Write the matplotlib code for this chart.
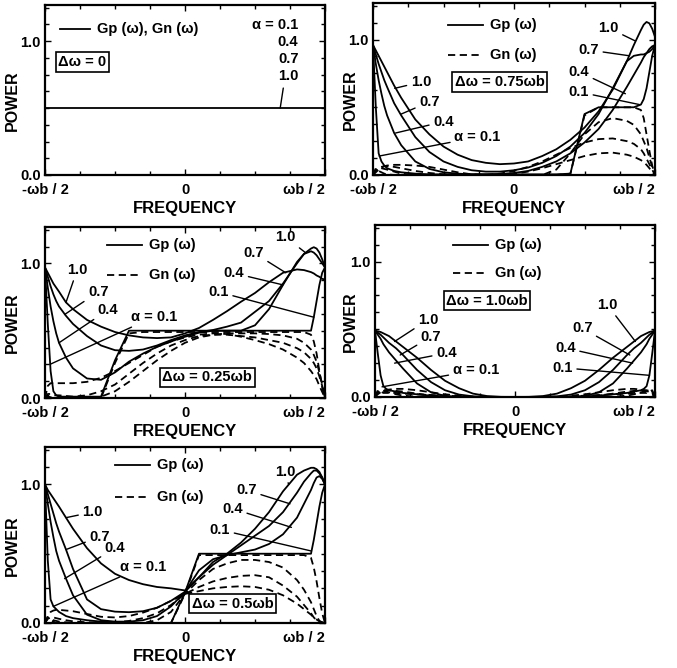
import matplotlib
matplotlib.use("Agg")
import matplotlib.pyplot as plt
from matplotlib.ticker import MultipleLocator

plt.rcParams["font.family"] = ["Liberation Sans", "DejaVu Sans"]
plt.rcParams["font.weight"] = "bold"

# frequency grid, in units of wb (-wb/2 .. wb/2)
FREQ = [-0.5, -0.49, -0.48, -0.47, -0.46, -0.45, -0.425, -0.4, -0.35, -0.3, -0.25,
        -0.2, -0.15, -0.1, -0.05, 0.0, 0.05, 0.1, 0.15, 0.2, 0.25, 0.3, 0.35, 0.4,
        0.425, 0.45, 0.46, 0.47, 0.48, 0.49, 0.5]
TICK_LABELS = ["-\u03c9b / 2", "0", "\u03c9b / 2"]

# dw = 0 : Gp = Gn for every alpha
FREQ_EDGES = [-0.5, 0.5]
G_000 = [0.5, 0.5]

# dw = 0.75 wb
gp_075_a10 = [0.96, 0.92, 0.88, 0.84, 0.80, 0.76, 0.66, 0.57, 0.41, 0.30, 0.21, 0.15, 0.11, 0.09, 0.08,
              0.085, 0.10, 0.14, 0.19, 0.26, 0.35, 0.47, 0.63, 0.84, 0.96, 1.07, 1.11, 1.13, 1.12, 1.08, 1.02]
gp_075_a07 = [0.96, 0.89, 0.82, 0.76, 0.70, 0.65, 0.53, 0.44, 0.28, 0.17, 0.10, 0.06, 0.035, 0.025, 0.025,
              0.035, 0.055, 0.09, 0.14, 0.21, 0.31, 0.45, 0.64, 0.84, 0.88, 0.89, 0.89, 0.90, 0.91, 0.93, 0.96]
gp_075_a04 = [0.96, 0.82, 0.70, 0.60, 0.51, 0.44, 0.31, 0.22, 0.10, 0.045, 0.02, 0.01, 0.005, 0.005, 0.008,
              0.015, 0.03, 0.06, 0.10, 0.16, 0.24, 0.34, 0.48, 0.65, 0.74, 0.83, 0.87, 0.90, 0.93, 0.95, 0.96]
gp_075_a01 = [0.96, 0.50, 0.16, 0.10, 0.07, 0.05, 0.03, 0.02, 0.01, 0.005, 0.005, 0.005, 0.005, 0.005, 0.005,
              0.005, 0.005, 0.005, 0.005, 0.01, 0.45, 0.50, 0.50, 0.50, 0.50, 0.52, 0.56, 0.64, 0.76, 0.88, 0.96]
gn_075_a10 = [0.0, 0.02, 0.04, 0.055, 0.065, 0.07, 0.075, 0.075, 0.07, 0.06, 0.04, 0.02, 0.005, 0.0, 0.0,
              0.01, 0.025, 0.05, 0.08, 0.11, 0.14, 0.16, 0.165, 0.15, 0.135, 0.11, 0.095, 0.075, 0.05, 0.025, 0.0]
gn_075_a07 = [0.0, 0.03, 0.05, 0.06, 0.065, 0.065, 0.06, 0.05, 0.03, 0.015, 0.005, 0.0, 0.0, 0.0, 0.01,
              0.03, 0.06, 0.10, 0.15, 0.20, 0.24, 0.265, 0.27, 0.25, 0.23, 0.19, 0.16, 0.12, 0.08, 0.04, 0.0]
gn_075_a04 = [0.0, 0.04, 0.05, 0.05, 0.045, 0.04, 0.025, 0.01, 0.0, 0.0, 0.0, 0.0, 0.0, 0.0, 0.0,
              0.0, 0.0, 0.0, 0.04, 0.16, 0.30, 0.39, 0.42, 0.40, 0.37, 0.30, 0.25, 0.20, 0.13, 0.06, 0.0]
gn_075_a01 = [0.0, 0.05, 0.03, 0.02, 0.01, 0.005, 0.0, 0.0, 0.0, 0.0, 0.0, 0.0, 0.0, 0.0, 0.0,
              0.0, 0.0, 0.0, 0.0, 0.01, 0.44, 0.50, 0.50, 0.50, 0.50, 0.48, 0.42, 0.30, 0.18, 0.07, 0.0]

# dw = 0.25 wb
gp_025_a10 = [0.97, 0.93, 0.89, 0.85, 0.82, 0.79, 0.71, 0.66, 0.58, 0.53, 0.49, 0.465, 0.45, 0.445, 0.45,
              0.48, 0.52, 0.58, 0.645, 0.715, 0.78, 0.86, 0.93, 0.955, 0.95, 0.935, 0.925, 0.91, 0.90, 0.885, 0.88]
gp_025_a07 = [0.97, 0.90, 0.83, 0.77, 0.72, 0.68, 0.61, 0.55, 0.46, 0.39, 0.355, 0.35, 0.36, 0.39, 0.43,
              0.465, 0.49, 0.505, 0.53, 0.56, 0.64, 0.72, 0.85, 1.00, 1.07, 1.11, 1.12, 1.11, 1.08, 1.03, 0.97]
gp_025_a04 = [0.97, 0.82, 0.68, 0.57, 0.48, 0.41, 0.30, 0.22, 0.145, 0.135, 0.19, 0.27, 0.33, 0.38, 0.42,
              0.455, 0.485, 0.50, 0.50, 0.50, 0.54, 0.66, 0.84, 1.01, 1.07, 1.09, 1.08, 1.06, 1.03, 1.00, 0.97]
gp_025_a01 = [0.97, 0.55, 0.20, 0.05, 0.02, 0.01, 0.01, 0.01, 0.01, 0.01, 0.28, 0.50, 0.50, 0.50, 0.50,
              0.50, 0.50, 0.50, 0.50, 0.50, 0.50, 0.50, 0.50, 0.50, 0.50, 0.50, 0.60, 0.72, 0.84, 0.93, 0.97]
gn_025_a10 = [0.0, 0.09, 0.11, 0.11, 0.11, 0.11, 0.11, 0.11, 0.12, 0.15, 0.20, 0.26, 0.32, 0.38, 0.42,
              0.45, 0.47, 0.48, 0.475, 0.455, 0.43, 0.40, 0.36, 0.30, 0.26, 0.20, 0.17, 0.14, 0.09, 0.045, 0.0]
gn_025_a07 = [0.0, 0.03, 0.03, 0.02, 0.02, 0.02, 0.015, 0.01, 0.02, 0.05, 0.10, 0.18, 0.26, 0.33, 0.39,
              0.43, 0.46, 0.47, 0.47, 0.46, 0.45, 0.43, 0.41, 0.37, 0.34, 0.29, 0.26, 0.22, 0.16, 0.09, 0.0]
gn_025_a04 = [0.0, 0.01, 0.005, 0.0, 0.0, 0.0, 0.0, 0.0, 0.0, 0.01, 0.05, 0.12, 0.20, 0.28, 0.35,
              0.41, 0.45, 0.47, 0.48, 0.48, 0.48, 0.475, 0.465, 0.44, 0.41, 0.36, 0.32, 0.27, 0.19, 0.10, 0.0]
gn_025_a01 = [0.0, 0.02, 0.0, 0.0, 0.0, 0.0, 0.0, 0.0, 0.0, 0.0, 0.26, 0.48, 0.49, 0.49, 0.49,
              0.49, 0.49, 0.49, 0.49, 0.49, 0.49, 0.49, 0.49, 0.49, 0.49, 0.47, 0.42, 0.33, 0.20, 0.08, 0.0]

# dw = 1.0 wb
gp_100_a10 = [0.49, 0.485, 0.48, 0.47, 0.46, 0.45, 0.41, 0.37, 0.29, 0.20, 0.12, 0.065, 0.025, 0.007, 0.001,
              0.0, 0.001, 0.007, 0.025, 0.065, 0.12, 0.20, 0.29, 0.37, 0.41, 0.45, 0.46, 0.47, 0.48, 0.485, 0.49]
gp_100_a07 = [0.49, 0.475, 0.46, 0.44, 0.42, 0.40, 0.36, 0.31, 0.20, 0.11, 0.05, 0.018, 0.005, 0.0, 0.0,
              0.0, 0.0, 0.0, 0.005, 0.018, 0.05, 0.11, 0.20, 0.31, 0.36, 0.40, 0.42, 0.44, 0.46, 0.475, 0.49]
gp_100_a04 = [0.49, 0.46, 0.43, 0.39, 0.36, 0.33, 0.27, 0.21, 0.10, 0.035, 0.008, 0.0, 0.0, 0.0, 0.0,
              0.0, 0.0, 0.0, 0.0, 0.0, 0.008, 0.035, 0.10, 0.21, 0.27, 0.33, 0.36, 0.39, 0.43, 0.46, 0.49]
gp_100_a01 = [0.49, 0.32, 0.16, 0.08, 0.06, 0.05, 0.04, 0.03, 0.02, 0.01, 0.005, 0.0, 0.0, 0.0, 0.0,
              0.0, 0.0, 0.0, 0.0, 0.0, 0.005, 0.01, 0.02, 0.03, 0.04, 0.05, 0.06, 0.08, 0.16, 0.32, 0.49]
gn_100_a10 = [0.0, 0.02, 0.035, 0.045, 0.05, 0.055, 0.06, 0.06, 0.05, 0.035, 0.02, 0.01, 0.003, 0.0, 0.0,
              0.0, 0.0, 0.0, 0.003, 0.01, 0.02, 0.035, 0.05, 0.06, 0.06, 0.055, 0.05, 0.045, 0.035, 0.02, 0.0]
gn_100_a07 = [0.0, 0.03, 0.045, 0.05, 0.05, 0.05, 0.045, 0.04, 0.025, 0.01, 0.003, 0.0, 0.0, 0.0, 0.0,
              0.0, 0.0, 0.0, 0.0, 0.0, 0.003, 0.01, 0.025, 0.04, 0.045, 0.05, 0.05, 0.05, 0.045, 0.03, 0.0]
gn_100_a04 = [0.0, 0.04, 0.05, 0.045, 0.04, 0.035, 0.02, 0.01, 0.002, 0.0, 0.0, 0.0, 0.0, 0.0, 0.0,
              0.0, 0.0, 0.0, 0.0, 0.0, 0.0, 0.0, 0.002, 0.01, 0.02, 0.035, 0.04, 0.045, 0.05, 0.04, 0.0]
gn_100_a01 = [0.0, 0.05, 0.04, 0.03, 0.03, 0.03, 0.03, 0.025, 0.02, 0.015, 0.01, 0.005, 0.0, 0.0, 0.0,
              0.0, 0.0, 0.0, 0.0, 0.005, 0.01, 0.015, 0.02, 0.025, 0.03, 0.03, 0.03, 0.03, 0.04, 0.05, 0.0]

# dw = 0.5 wb
gp_050_a10 = [1.0, 0.96, 0.93, 0.90, 0.87, 0.84, 0.76, 0.68, 0.54, 0.43, 0.355, 0.31, 0.28, 0.26, 0.25,
              0.235, 0.33, 0.44, 0.50, 0.58, 0.68, 0.80, 0.95, 1.07, 1.10, 1.12, 1.12, 1.11, 1.09, 1.05, 1.0]
gp_050_a07 = [1.0, 0.93, 0.86, 0.79, 0.72, 0.66, 0.53, 0.39, 0.17, 0.10, 0.082, 0.078, 0.085, 0.11, 0.16,
              0.225, 0.33, 0.42, 0.49, 0.56, 0.63, 0.70, 0.80, 0.94, 1.02, 1.08, 1.10, 1.10, 1.08, 1.05, 1.0]
gp_050_a04 = [1.0, 0.86, 0.73, 0.62, 0.52, 0.45, 0.32, 0.20, 0.06, 0.02, 0.01, 0.01, 0.02, 0.05, 0.12,
              0.225, 0.38, 0.46, 0.49, 0.51, 0.53, 0.57, 0.64, 0.76, 0.86, 0.96, 1.01, 1.05, 1.06, 1.04, 1.0]
gp_050_a01 = [1.0, 0.45, 0.17, 0.12, 0.10, 0.08, 0.05, 0.035, 0.02, 0.01, 0.005, 0.0, 0.0, 0.0, 0.0,
              0.22, 0.50, 0.50, 0.50, 0.50, 0.50, 0.50, 0.50, 0.50, 0.50, 0.50, 0.60, 0.72, 0.84, 0.94, 1.0]
gn_050_a10 = [0.0, 0.05, 0.08, 0.09, 0.095, 0.095, 0.09, 0.085, 0.065, 0.045, 0.04, 0.05, 0.075, 0.11, 0.16,
              0.21, 0.23, 0.25, 0.26, 0.265, 0.26, 0.24, 0.20, 0.14, 0.10, 0.06, 0.04, 0.025, 0.012, 0.004, 0.0]
gn_050_a07 = [0.0, 0.03, 0.04, 0.04, 0.035, 0.03, 0.02, 0.012, 0.005, 0.003, 0.005, 0.015, 0.035, 0.07, 0.13,
              0.21, 0.26, 0.30, 0.325, 0.34, 0.345, 0.33, 0.27, 0.19, 0.13, 0.07, 0.04, 0.02, 0.01, 0.003, 0.0]
gn_050_a04 = [0.0, 0.04, 0.03, 0.02, 0.015, 0.01, 0.005, 0.0, 0.0, 0.0, 0.0, 0.0, 0.0, 0.02, 0.08,
              0.21, 0.31, 0.39, 0.43, 0.455, 0.455, 0.44, 0.40, 0.31, 0.24, 0.15, 0.10, 0.05, 0.015, 0.005, 0.0]
gn_050_a01 = [0.0, 0.04, 0.02, 0.01, 0.0, 0.0, 0.0, 0.0, 0.0, 0.0, 0.0, 0.0, 0.0, 0.0, 0.0,
              0.21, 0.49, 0.49, 0.49, 0.49, 0.49, 0.49, 0.49, 0.49, 0.49, 0.47, 0.40, 0.30, 0.18, 0.07, 0.0]

W, H = 677, 668
LW = 1.3
DASH = (0, (4, 2.5))

# pixel boxes (left, top, right, bottom), legend spots and alpha labels per panel
PANELS = [
    dict(box=(373, 3, 655, 175), dw="\u0394\u03c9 = 0.75\u03c9b", dwpos=(0.45, 0.54), leg=(0.266, 0.872, 0.70),
         ylab=-0.053,
         gp=[gp_075_a01, gp_075_a04, gp_075_a07, gp_075_a10],
         gn=[gn_075_a01, gn_075_a04, gn_075_a07, gn_075_a10],
         labels=[("1.0", (-0.423, 0.64), (0.17, 0.54)), ("0.7", (-0.40, 0.45), (0.20, 0.425)),
                 ("0.4", (-0.42, 0.31), (0.25, 0.31)), ("\u03b1 = 0.1", (-0.478, 0.14), (0.37, 0.22)),
                 ("1.0", (0.43, 0.99), (0.835, 0.855)), ("0.7", (0.41, 0.88), (0.765, 0.727)),
                 ("0.4", (0.395, 0.60), (0.73, 0.60)), ("0.1", (0.445, 0.52), (0.73, 0.483))]),
    dict(box=(45, 227, 325, 398), dw="\u0394\u03c9 = 0.25\u03c9b", dwpos=(0.58, 0.12), leg=(0.22, 0.895, 0.72),
         ylab=-0.089,
         gp=[gp_025_a01, gp_025_a04, gp_025_a07, gp_025_a10],
         gn=[gn_025_a01, gn_025_a04, gn_025_a07, gn_025_a10],
         labels=[("1.0", (-0.425, 0.71), (0.115, 0.75)), ("0.7", (-0.43, 0.62), (0.19, 0.62)),
                 ("0.4", (-0.45, 0.41), (0.225, 0.515)), ("\u03b1 = 0.1", (-0.482, 0.25), (0.39, 0.475)),
                 ("1.0", (0.43, 1.08), (0.86, 0.94)), ("0.7", (0.36, 0.93), (0.745, 0.85)),
                 ("0.4", (0.35, 0.84), (0.675, 0.73)), ("0.1", (0.46, 0.60), (0.62, 0.62))]),
    dict(box=(375, 225, 655, 397), dw="\u0394\u03c9 = 1.0\u03c9b", dwpos=(0.40, 0.56), leg=(0.28, 0.884, 0.72),
         ylab=-0.061,
         gp=[gp_100_a01, gp_100_a04, gp_100_a07, gp_100_a10],
         gn=[gn_100_a01, gn_100_a04, gn_100_a07, gn_100_a10],
         labels=[("1.0", (-0.43, 0.41), (0.19, 0.45)), ("0.7", (-0.41, 0.31), (0.20, 0.35)),
                 ("0.4", (-0.43, 0.25), (0.255, 0.255)), ("\u03b1 = 0.1", (-0.475, 0.075), (0.36, 0.155)),
                 ("1.0", (0.43, 0.41), (0.83, 0.535)), ("0.7", (0.41, 0.31), (0.74, 0.40)),
                 ("0.4", (0.42, 0.25), (0.68, 0.285)), ("0.1", (0.48, 0.16), (0.67, 0.17))]),
    dict(box=(45, 447, 325, 623), dw="\u0394\u03c9 = 0.5\u03c9b", dwpos=(0.67, 0.11), leg=(0.25, 0.90, 0.716),
         ylab=-0.089,
         gp=[gp_050_a01, gp_050_a04, gp_050_a07, gp_050_a10],
         gn=[gn_050_a01, gn_050_a04, gn_050_a07, gn_050_a10],
         labels=[("1.0", (-0.425, 0.76), (0.17, 0.63)), ("0.7", (-0.425, 0.53), (0.195, 0.49)),
                 ("0.4", (-0.43, 0.32), (0.25, 0.425)), ("\u03b1 = 0.1", (-0.47, 0.12), (0.35, 0.32)),
                 ("1.0", (0.37, 1.0), (0.857, 0.86)), ("0.7", (0.375, 0.86), (0.72, 0.755)),
                 ("0.4", (0.38, 0.69), (0.67, 0.65)), ("0.1", (0.45, 0.52), (0.625, 0.53))]),
]


def make_axes(fig, box):
    left, top, right, bottom = box
    return fig.add_axes([left / W, 1 - bottom / H, (right - left) / W, (bottom - top) / H])


def style(ax, ylab_x):
    ax.set_xlim(-0.5, 0.5)
    ax.set_ylim(0, 1.27)
    ax.set_xticks([-0.5, 0, 0.5])
    ax.set_xticklabels(TICK_LABELS)
    ax.get_xticklabels()[-1].set_horizontalalignment("right")
    ax.set_yticks([0, 1.0])
    ax.set_yticklabels(["0.0", "1.0"])
    ax.xaxis.set_minor_locator(MultipleLocator(0.125))
    ax.yaxis.set_minor_locator(MultipleLocator(0.125))
    ax.tick_params(which="both", direction="in", top=True, right=True, width=1.0, labelsize=10.5)
    ax.tick_params(which="major", length=4)
    ax.tick_params(which="minor", length=3)
    ax.tick_params(axis="x", which="major", pad=5.5)
    ax.tick_params(axis="y", which="major", pad=3)
    for sp in ax.spines.values():
        sp.set_linewidth(1.6)
    ax.set_xlabel("FREQUENCY", fontsize=12, fontweight="bold")
    ax.set_ylabel("POWER", fontsize=11.5, fontweight="bold")
    ax.xaxis.set_label_coords(0.5, -0.15)
    ax.yaxis.set_label_coords(ylab_x, 0.44)


def dw_box(ax, text, pos):
    ax.text(pos[0], pos[1], text, transform=ax.transAxes, ha="center", va="center", fontsize=10.5,
            bbox=dict(boxstyle="square,pad=0.18", fc="white", ec="black", lw=1.2))


fig = plt.figure(figsize=(W / 100, H / 100), dpi=100)

# panel 1 : dw = 0
ax = make_axes(fig, (45, 5, 325, 175))
style(ax, -0.089)
ax.plot(FREQ_EDGES, G_000, color="black", lw=LW)
ax.plot([0.054, 0.16], [0.86, 0.86], transform=ax.transAxes, color="black", lw=LW)
ax.text(0.185, 0.86, "Gp (\u03c9), Gn (\u03c9)", transform=ax.transAxes, va="center", fontsize=10.5)
dw_box(ax, "\u0394\u03c9 = 0", (0.133, 0.665))
ax.text(0.905, 0.88, "\u03b1 = 0.1", transform=ax.transAxes, ha="right", va="center", fontsize=10.5)
ax.text(0.905, 0.78, "0.4", transform=ax.transAxes, ha="right", va="center", fontsize=10.5)
ax.text(0.905, 0.685, "0.7", transform=ax.transAxes, ha="right", va="center", fontsize=10.5)
ax.annotate("1.0", xy=(0.34, 0.5), xytext=(0.905, 0.585), textcoords="axes fraction", ha="right",
            va="center", fontsize=10.5,
            arrowprops=dict(arrowstyle="-", lw=1.0, color="black", shrinkA=2, shrinkB=0, relpos=(0.3, 0.0)))

for p in PANELS:
    ax = make_axes(fig, p["box"])
    style(ax, p["ylab"])
    for g in p["gn"]:
        ax.plot(FREQ, g, color="black", lw=LW, ls=DASH)
    for g in p["gp"]:
        ax.plot(FREQ, g, color="black", lw=LW)
    x0, ys, yd = p["leg"]
    ax.plot([x0, x0 + 0.125], [ys, ys], transform=ax.transAxes, color="black", lw=LW)
    ax.plot([x0, x0 + 0.125], [yd, yd], transform=ax.transAxes, color="black", lw=LW, ls=DASH)
    ax.text(x0 + 0.15, ys, "Gp (\u03c9)", transform=ax.transAxes, va="center", fontsize=10.5)
    ax.text(x0 + 0.15, yd, "Gn (\u03c9)", transform=ax.transAxes, va="center", fontsize=10.5)
    dw_box(ax, p["dw"], p["dwpos"])
    for text, xy, xyt in p["labels"]:
        ax.annotate(text, xy=xy, xytext=xyt, textcoords="axes fraction", ha="center", va="center",
                    fontsize=10.5,
                    arrowprops=dict(arrowstyle="-", lw=1.0, color="black", shrinkA=1, shrinkB=0))

fig.savefig("out.png", dpi=100)
